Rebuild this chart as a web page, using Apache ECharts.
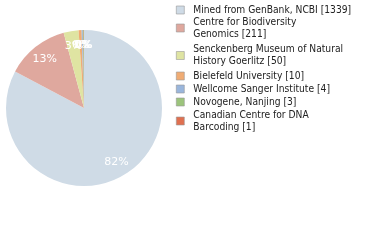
<!DOCTYPE html>
<html><head><meta charset="utf-8">
<script src="https://cdn.jsdelivr.net/npm/echarts@6/dist/echarts.min.js"></script>
<style>html,body{margin:0;padding:0;background:#fff}#c{width:380px;height:240px}</style>
</head><body><div id="c"></div>
<script>
const categories = ["Mined from GenBank, NCBI", "Centre for Biodiversity\nGenomics", "Senckenberg Museum of Natural\nHistory Goerlitz", "Bielefeld University", "Wellcome Sanger Institute", "Novogene, Nanjing", "Canadian Centre for DNA\nBarcoding"];
const counts = [1339, 211, 50, 10, 4, 3, 1];
const colors = ["#cfdbe6", "#dfa89e", "#dfe4a2", "#f0ac74", "#9ab6dc", "#9cc47c", "#e07050"];
const legendCenters = [10, 28, 55.5, 76, 89, 102, 121];

const total = counts.reduce((a, b) => a + b, 0);
const names = categories.map((c, i) => c + " [" + counts[i] + "]");
const data = names.map((n, i) => ({ name: n, value: counts[i], itemStyle: { color: colors[i] } }));
const fontFam = "DejaVu Sans Condensed, DejaVu Sans";

const legends = names.map((n, i) => {
  const lines = n.split("\n").length;
  const h = lines * 12;
  return {
    data: [n], left: 176, top: legendCenters[i] - h / 2, padding: 0,
    itemWidth: 8, itemHeight: 8, itemGap: 0, icon: 'rect',
    itemStyle: { borderColor: '#999', borderWidth: 0.6 },
    textStyle: { fontFamily: fontFam, fontSize: 10.2, lineHeight: 12, color: '#222', padding: [0, 0, 0, 4] },
    selectedMode: false
  };
});

const chart = echarts.init(document.getElementById('c'), null, { renderer: 'canvas' });
chart.setOption({
  animation: false,
  color: colors,
  legend: legends,
  series: [
    {
      type: 'pie', center: [84, 108], radius: [0, 78], startAngle: 90, clockwise: true,
      data: data, label: { show: false }, labelLine: { show: false }, silent: true,
      itemStyle: { borderWidth: 0 }
    },
    {
      type: 'pie', center: [84, 108], radius: [42, 78], startAngle: 90, clockwise: true,
      data: names.map((n, i) => ({ name: n, value: counts[i], itemStyle: { color: 'rgba(0,0,0,0)' } })),
      silent: true, legendHoverLink: false, avoidLabelOverlap: false, minShowLabelAngle: 0,
      labelLayout: { hideOverlap: false },
      label: {
        show: true, position: 'inside', color: '#fff', fontFamily: "DejaVu Sans", fontSize: 11,
        formatter: p => Math.floor(p.value / total * 100) + '%'
      },
      labelLine: { show: false }
    }
  ]
});
</script></body></html>
